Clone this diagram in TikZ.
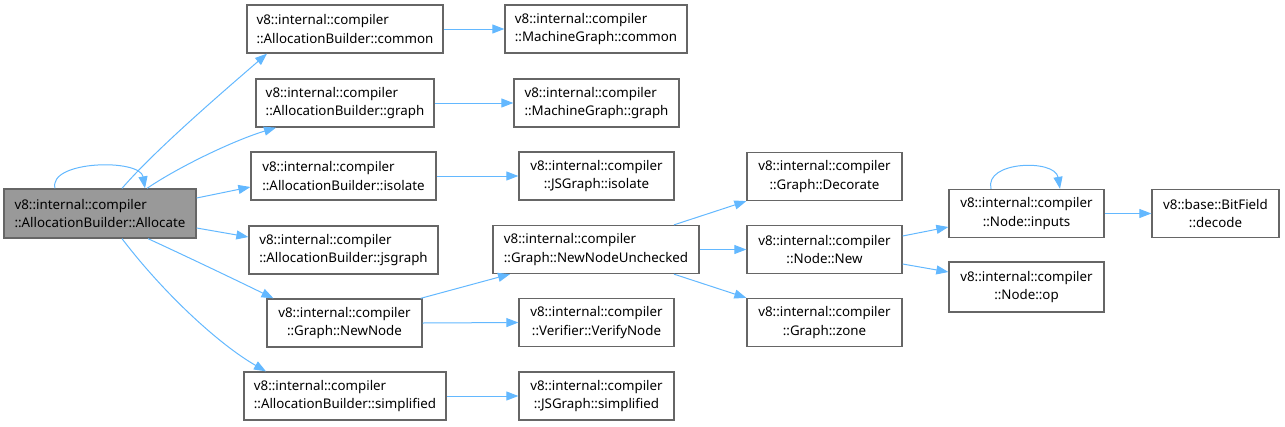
\documentclass[tikz,border=0pt]{standalone}
\usepackage{fontspec}
\setmainfont{Noto Sans}
\usetikzlibrary{arrows.meta}
\definecolor{edgeblue}{HTML}{63B8FF}
\definecolor{boxborder}{HTML}{666666}
\definecolor{mainfill}{HTML}{999999}
\tikzset{
  box/.style={draw=boxborder, line width=1.3pt, fill=white, rectangle, minimum height=48pt, inner sep=0pt,
    font=\fontsize{13.33}{18.5}\selectfont},
  lbox/.style={box, align=left},
  cbox/.style={box, align=center},
  edge/.style={draw=edgeblue, line width=1pt, -{Triangle[length=12pt,width=9pt]}},
}
\begin{document}
\begin{tikzpicture}[x=1pt,y=-1pt]
\useasboundingbox (0,0) rectangle (1285,426);
% column 1
\node[lbox, fill=mainfill, minimum width=192pt, minimum height=49pt] (alloc) at (100,213.5) {v8::internal::compiler\\::AllocationBuilder::Allocate};
% column 2
\node[lbox, minimum width=196pt] (common) at (345,29) {v8::internal::compiler\\::AllocationBuilder::common};
\node[lbox, minimum width=178pt] (graph) at (345,103) {v8::internal::compiler\\::AllocationBuilder::graph};
\node[lbox, minimum width=185pt] (isolate) at (343.5,176) {v8::internal::compiler\\::AllocationBuilder::isolate};
\node[lbox, minimum width=189pt] (jsgraph) at (343.5,250) {v8::internal::compiler\\::AllocationBuilder::jsgraph};
\node[cbox, minimum width=155pt] (newnode) at (344.5,323) {v8::internal::compiler\\::Graph::NewNode};
\node[lbox, minimum width=202pt] (simplified) at (345,396) {v8::internal::compiler\\::AllocationBuilder::simplified};
% column 3
\node[lbox, minimum width=182pt] (mgcommon) at (596,29) {v8::internal::compiler\\::MachineGraph::common};
\node[lbox, minimum width=165pt] (mggraph) at (596.5,103) {v8::internal::compiler\\::MachineGraph::graph};
\node[cbox, minimum width=155pt] (jsisolate) at (596.5,176) {v8::internal::compiler\\::JSGraph::isolate};
\node[lbox, minimum width=206pt] (nnu) at (596,249.5) {v8::internal::compiler\\::Graph::NewNodeUnchecked};
\node[cbox, minimum width=155pt] (verify) at (596.5,322.5) {v8::internal::compiler\\::Verifier::VerifyNode};
\node[cbox, minimum width=155pt] (jssimplified) at (596.5,396) {v8::internal::compiler\\::JSGraph::simplified};
% column 4
\node[cbox, minimum width=155pt] (decorate) at (824.5,176.5) {v8::internal::compiler\\::Graph::Decorate};
\node[cbox, minimum width=155pt] (new) at (824.5,249.5) {v8::internal::compiler\\::Node::New};
\node[cbox, minimum width=155pt] (zone) at (824.5,322.5) {v8::internal::compiler\\::Graph::zone};
% column 5
\node[cbox, minimum width=155pt] (inputs) at (1026.5,213.5) {v8::internal::compiler\\::Node::inputs};
\node[cbox, minimum width=155pt, minimum height=50pt] (op) at (1026.5,287) {v8::internal::compiler\\::Node::op};
% column 6
\node[cbox, minimum width=127pt] (decode) at (1215.5,213.5) {v8::base::BitField\\::decode};

% edges
\draw[edge] ([xshift=-45pt]alloc.north) .. controls +(-7,-28) and +(-5,-30) .. ([xshift=45pt]alloc.north);
\draw[edge] ([xshift=22pt]alloc.north) .. controls (155,150) and (225,90) .. ([xshift=-78pt]common.south);
\draw[edge] ([xshift=47pt]alloc.north) .. controls (180,166) and (235,140) .. ([xshift=-69pt]graph.south);
\draw[edge] ([yshift=15.5pt]alloc.east) -- ([yshift=-11pt]isolate.west);
\draw[edge] ([yshift=-14.5pt]alloc.east) -- ([yshift=13pt]jsgraph.west);
\draw[edge] ([xshift=48pt]alloc.south) .. controls (190,258) and (240,282) .. ([xshift=-71pt]newnode.north);
\draw[edge] ([xshift=22pt]alloc.south) .. controls (165,295) and (220,345) .. ([xshift=-79pt]simplified.north);

\draw[edge] (common.east) -- (mgcommon.west);
\draw[edge] (graph.east) -- (mggraph.west);
\draw[edge] (isolate.east) -- (jsisolate.west);
\draw[edge] ([xshift=-2pt]newnode.north east) -- ([xshift=-86pt]nnu.south);
\draw[edge] (newnode.east) -- (verify.west);
\draw[edge] (simplified.east) -- (jssimplified.west);

\draw[edge] ([xshift=78pt]nnu.north) -- (decorate.south west);
\draw[edge] (nnu.east) -- (new.west);
\draw[edge] ([xshift=78pt]nnu.south) -- (zone.north west);

\draw[edge] ([yshift=13.5pt]new.east) -- ([yshift=-13.5pt]inputs.west);
\draw[edge] ([yshift=-14.5pt]new.east) -- ([yshift=15pt]op.west);

\draw[edge] ([xshift=-35.5pt]inputs.north) .. controls +(-7,-28) and +(-5,-30) .. ([xshift=33.5pt]inputs.north);
\draw[edge] (inputs.east) -- (decode.west);
\end{tikzpicture}
\end{document}
